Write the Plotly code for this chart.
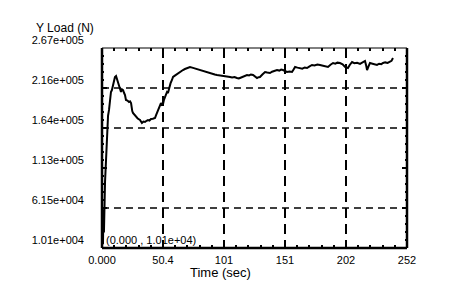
import plotly.graph_objects as go

# ---- data ----
time_sec = [0.0, 0.4, 0.8, 1.2, 1.6, 2.0, 2.5, 3.0, 3.3, 3.8, 4.1, 4.6, 5.0, 5.8, 6.6, 7.4, 8.2, 9.1,
            9.9, 10.7, 11.6, 12.4, 13.2, 14.0, 14.9, 15.7, 16.5, 17.4, 18.2, 19.0, 19.8, 21.0,
            22.3, 23.2, 24.0, 24.4, 25.0, 25.6, 26.8, 28.1, 29.5, 31.4, 32.2, 33.0, 34.2, 35.5,
            36.8, 38.0, 39.2, 40.5, 42.0, 43.8, 44.6, 45.4, 46.2, 47.1, 48.0, 48.7, 49.5, 50.4,
            51.2, 52.0, 52.8, 53.7, 54.5, 55.5, 56.6, 57.8, 58.7, 60.2, 62.0, 63.5, 65.0, 66.9,
            68.5, 70.5, 72.7, 74.5, 76.5, 78.5, 80.5, 83.4, 85.5, 87.2, 89.2, 91.5, 93.2, 95.0,
            97.2, 100.0, 102.0, 103.8, 105.8, 107.5, 109.5, 111.5, 113.0, 114.0, 116.0, 118.0,
            119.8, 121.5, 123.0, 124.8, 126.5, 128.1, 129.5, 130.5, 132.5, 134.7, 136.5, 138.8,
            140.5, 142.5, 144.6, 146.5, 148.0, 149.5, 151.2, 152.8, 155.0, 157.0, 158.3, 159.5,
            161.5, 163.6, 165.5, 167.5, 169.4, 171.5, 173.5, 175.5, 178.0, 180.1, 182.5, 184.5,
            186.7, 188.8, 190.9, 192.8, 194.5, 196.6, 198.8, 200.8, 202.0, 203.2, 204.8, 206.6,
            208.5, 210.8, 213.2, 215.2, 217.3, 218.2, 219.0, 220.2, 221.4, 223.5, 225.2, 227.2,
            229.0, 230.8, 232.2, 234.0, 236.0, 237.9, 239.2, 240.4]
y_load = [10100, 45000, 15000, 60000, 30000, 72000, 95000, 112000, 123000, 150000, 165500, 172000,
          180000, 187400, 200200, 210500, 213000, 219500, 224000, 229800, 231000, 226500,
          223300, 219000, 215600, 210500, 214000, 213000, 209500, 206600, 200200, 199500,
          197600, 198500, 196300, 187400, 186000, 183500, 181500, 178400, 176500, 174500,
          172000, 170700, 172500, 172000, 173500, 174500, 173800, 175800, 176200, 177100,
          180500, 183500, 187500, 191200, 193500, 196300, 194000, 195000, 200500, 204000,
          207500, 210500, 209200, 216000, 221500, 225900, 229800, 231500, 233600, 235500,
          236800, 238700, 240000, 241500, 242600, 241800, 240800, 240000, 238500, 237500,
          236500, 235800, 234900, 233800, 233000, 232300, 231800, 231000, 231500, 230200,
          229800, 229200, 229800, 228500, 227800, 228500, 230000, 231200, 232300, 231800,
          233000, 232300, 230500, 228500, 229500, 229800, 233000, 236200, 235500, 234900,
          236500, 237200, 238700, 238000, 239200, 238700, 237500, 236200, 236800, 236200,
          239500, 242600, 241800, 241300, 240500, 242000, 241300, 243500, 245200, 244500,
          245800, 245200, 244000, 243500, 242600, 245500, 247700, 246800, 248200, 247700,
          246000, 242600, 242000, 241300, 245500, 249000, 247500, 248000, 246500, 248500,
          250300, 245000, 238700, 243500, 247700, 246800, 245800, 245200, 246800, 246200,
          247700, 248500, 247800, 249000, 250500, 254200]

x_tick_vals = [0.0, 50.4, 100.8, 151.2, 201.6, 252.0]
x_tick_text = ["0.000", "50.4", "101", "151", "202", "252"]
y_tick_vals = [10100, 61480, 112860, 164240, 215620, 267000]
y_tick_text = ["1.01e+004", "6.15e+004", "1.13e+005", "1.64e+005", "2.16e+005", "2.67e+005"]
y_grid_vals = [61480, 164240, 215620]

FONT = "Liberation Sans"

fig = go.Figure()
fig.add_trace(go.Scatter(x=time_sec, y=y_load, mode="lines",
                         line=dict(color="black", width=2), hoverinfo="skip"))

shapes = []
for gv in y_grid_vals:
    shapes.append(dict(type="line", xref="paper", yref="y", x0=0, x1=1, y0=gv, y1=gv,
                       line=dict(color="black", width=1.3, dash="7px,5px"), layer="below"))
# frame: thick left/right/bottom, thin top
shapes += [
    dict(type="line", xref="paper", yref="paper", x0=0, x1=0, y0=0, y1=1, line=dict(color="black", width=2.5)),
    dict(type="line", xref="paper", yref="paper", x0=1, x1=1, y0=0, y1=1, line=dict(color="black", width=2.5)),
    dict(type="line", xref="paper", yref="paper", x0=0, x1=1, y0=0, y1=0, line=dict(color="black", width=2.5)),
    dict(type="line", xref="paper", yref="paper", x0=0, x1=1, y0=1, y1=1, line=dict(color="black", width=1)),
]

fig.update_layout(
    width=462, height=285,
    margin=dict(l=102, r=55, t=48, b=37, autoexpand=False),
    paper_bgcolor="white", plot_bgcolor="white",
    showlegend=False,
    font=dict(family=FONT, size=11, color="black"),
    shapes=shapes,
    xaxis=dict(range=[0, 252], tickvals=x_tick_vals, ticktext=x_tick_text, automargin=False,
               ticks="inside", ticklen=6, tickwidth=1.5, tickcolor="black",
               mirror="allticks", showline=False, zeroline=False,
               showgrid=True, gridcolor="black", gridwidth=2, griddash="10px,6px",
               minor=dict(dtick=10.08, ticks="inside", ticklen=3, tickcolor="black", showgrid=False),
               ticklabelstandoff=4, tickfont=dict(family=FONT, size=11)),
    yaxis=dict(range=[10100, 267000], tickvals=y_tick_vals, ticktext=y_tick_text, automargin=False,
               ticks="inside", ticklen=5, tickwidth=1.5, tickcolor="black",
               mirror="allticks", showline=False, zeroline=False, showgrid=False,
               minor=dict(dtick=10276, tick0=10100, ticks="inside", ticklen=2, tickcolor="black", showgrid=False),
               ticklabelstandoff=17, ticklabelshift=-8, tickfont=dict(family=FONT, size=11)),
    annotations=[
        dict(text="Y Load (N)", xref="paper", yref="paper", x=-0.12, y=1.0, yshift=20,
             showarrow=False, xanchor="center", yanchor="middle", font=dict(family=FONT, size=12)),
        dict(text="Time (sec)", xref="paper", yref="paper", x=0.39, y=0, yshift=-24,
             showarrow=False, xanchor="center", yanchor="middle", font=dict(family=FONT, size=13)),
        dict(text="(0.000 , 1.01e+04)", xref="paper", yref="paper", x=0, y=0, xshift=2, yshift=8,
             showarrow=False, xanchor="left", yanchor="middle", font=dict(family=FONT, size=11)),
    ],
)

fig.write_html("out.html", config={"displayModeBar": False},
               post_script="document.body.style.margin='0px';")
